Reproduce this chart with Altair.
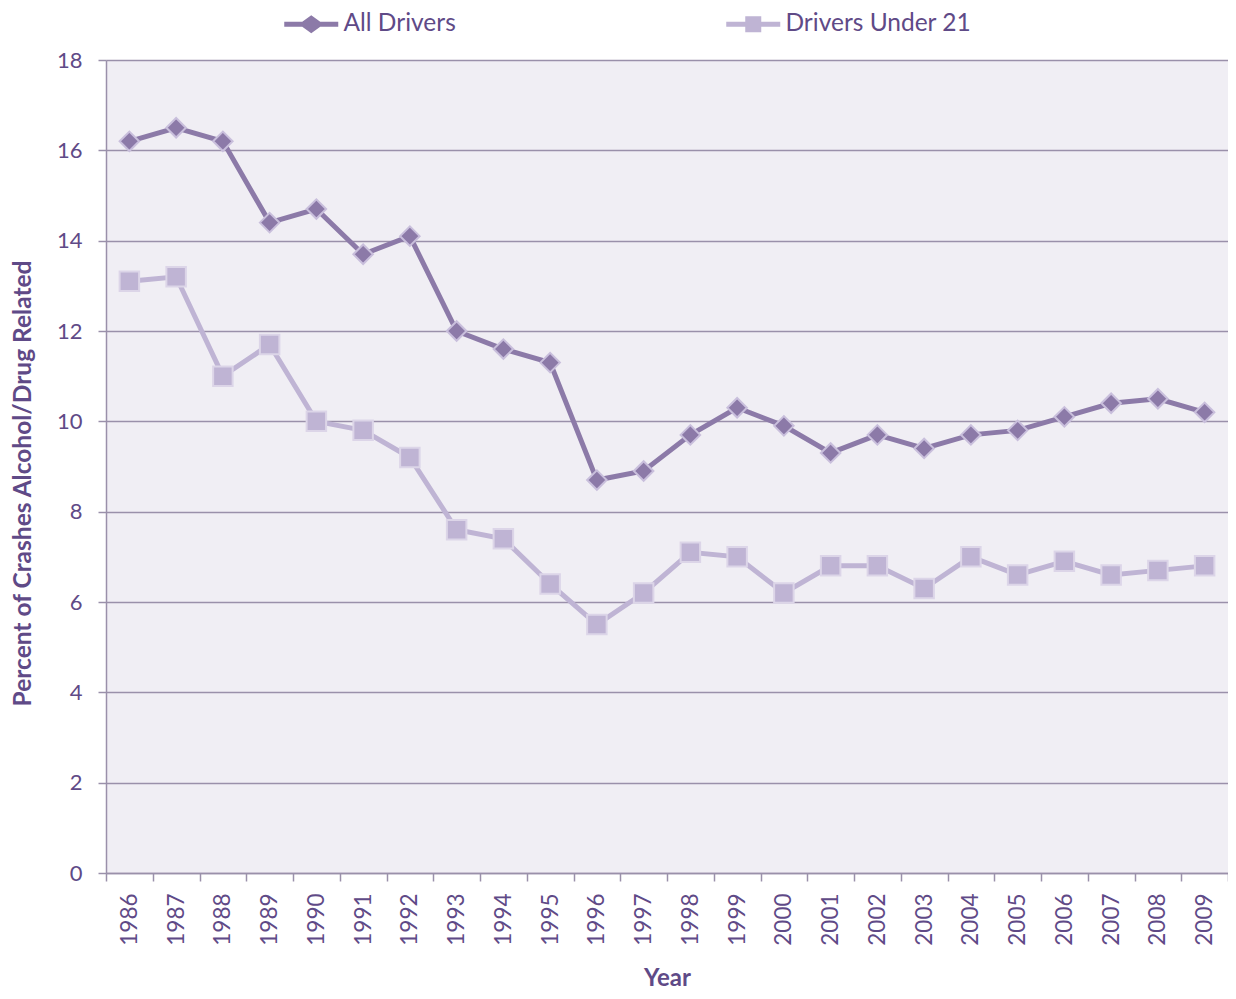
import altair as alt
import pandas as pd

years = [str(y) for y in range(1986, 2010)]
all_drivers = [16.2, 16.5, 16.2, 14.4, 14.7, 13.7, 14.1, 12.0, 11.6, 11.3, 8.7, 8.9,
               9.7, 10.3, 9.9, 9.3, 9.7, 9.4, 9.7, 9.8, 10.1, 10.4, 10.5, 10.2]
under_21 = [13.1, 13.2, 11.0, 11.7, 10.0, 9.8, 9.2, 7.6, 7.4, 6.4, 5.5, 6.2,
            7.1, 7.0, 6.2, 6.8, 6.8, 6.3, 7.0, 6.6, 6.9, 6.6, 6.7, 6.8]
series_names = ["All Drivers", "Drivers Under 21"]
y_ticks = [0, 2, 4, 6, 8, 10, 12, 14, 16, 18]

rows = []
for i, yr in enumerate(years):
    rows.append({"Year": yr, "Series": series_names[0], "Value": all_drivers[i]})
    rows.append({"Year": yr, "Series": series_names[1], "Value": under_21[i]})
df = pd.DataFrame(rows)

TEXT = "#5f4a87"
GRID = "#9a90aa"
FONT = "Lato"

line_colors = ["#8c7aa8", "#bfb4d4"]
stroke_colors = ["#c9bfdc", "#dcd5e8"]

diamond_legend = "M-2.7,-0.25L-0.9,-0.25L0,-0.9L0.9,-0.25L2.7,-0.25L2.7,0.25L0.9,0.25L0,0.9L-0.9,0.25L-2.7,0.25Z"
square_legend = "M-2.7,-0.25L-0.8,-0.25L-0.8,-0.8L0.8,-0.8L0.8,-0.25L2.7,-0.25L2.7,0.25L0.8,0.25L0.8,0.8L-0.8,0.8L-0.8,0.25L-2.7,0.25Z"

x_enc = alt.X("Year:O", sort=years,
              scale=alt.Scale(paddingInner=0, paddingOuter=0),
              axis=alt.Axis(title="Year", labelAngle=-90, labelFontSize=22.5,
                            labelColor=TEXT, labelFont=FONT, labelPadding=12,
                            tickBand="extent", tickSize=8, tickColor=GRID,
                            tickWidth=1.5, domainColor=GRID, domainWidth=1.5,
                            titleFontSize=24, titleFont=FONT, titleColor=TEXT,
                            titleFontWeight="bold", titlePadding=21, grid=False))
y_enc = alt.Y("Value:Q", scale=alt.Scale(domain=[0, 18], nice=False),
              axis=alt.Axis(title="Percent of Crashes Alcohol/Drug Related",
                            values=y_ticks, labelFontSize=22, labelColor=TEXT,
                            labelFont=FONT, labelPadding=16, tickSize=8,
                            tickColor=GRID, tickWidth=1.5, domainColor=GRID,
                            domainWidth=1.5, gridColor=GRID, gridWidth=1.5,
                            titleFontSize=24.5, titleFont=FONT, titleColor=TEXT,
                            titleFontWeight="bold", titlePadding=21, titleY=423))

lines = alt.Chart(df).mark_line(strokeWidth=5).encode(
    x=x_enc, y=y_enc,
    stroke=alt.Stroke("Series:N", scale=alt.Scale(domain=series_names, range=line_colors), legend=None),
)

def legend(sym, lx):
    return alt.Legend(title=None, orient="none", legendX=lx, legendY=-48,
                      padding=0, symbolSize=400, symbolType=sym, symbolStrokeWidth=0,
                      labelFontSize=24.5, labelColor=TEXT, labelFont=FONT,
                      labelOffset=20, labelLimit=400)

pts_all = alt.Chart(df).transform_filter(
    alt.datum.Series == series_names[0]
).mark_point(filled=True, opacity=1, strokeWidth=2, shape="diamond", size=380,
             stroke=stroke_colors[0]).encode(
    x=x_enc, y=y_enc,
    color=alt.Color("Series:N", scale=alt.Scale(domain=[series_names[0]], range=[line_colors[0]]),
                    legend=legend(diamond_legend, 193)),
)

pts_u21 = alt.Chart(df).transform_filter(
    alt.datum.Series == series_names[1]
).mark_point(filled=True, opacity=1, strokeWidth=2, shape="square", size=380,
             stroke=stroke_colors[1]).encode(
    x=x_enc, y=y_enc,
    fill=alt.Fill("Series:N", scale=alt.Scale(domain=[series_names[1]], range=[line_colors[1]]),
                  legend=legend(square_legend, 635)),
)

chart = (lines + pts_all + pts_u21).properties(
    width=1122, height=813,
    autosize="none",
    padding={"left": 98, "top": 52, "right": 0, "bottom": 118},
    background="white",
).configure_view(stroke=None, fill="#f0eef4")

chart.save("out.html", embed_options={"renderer": "svg", "actions": False})
